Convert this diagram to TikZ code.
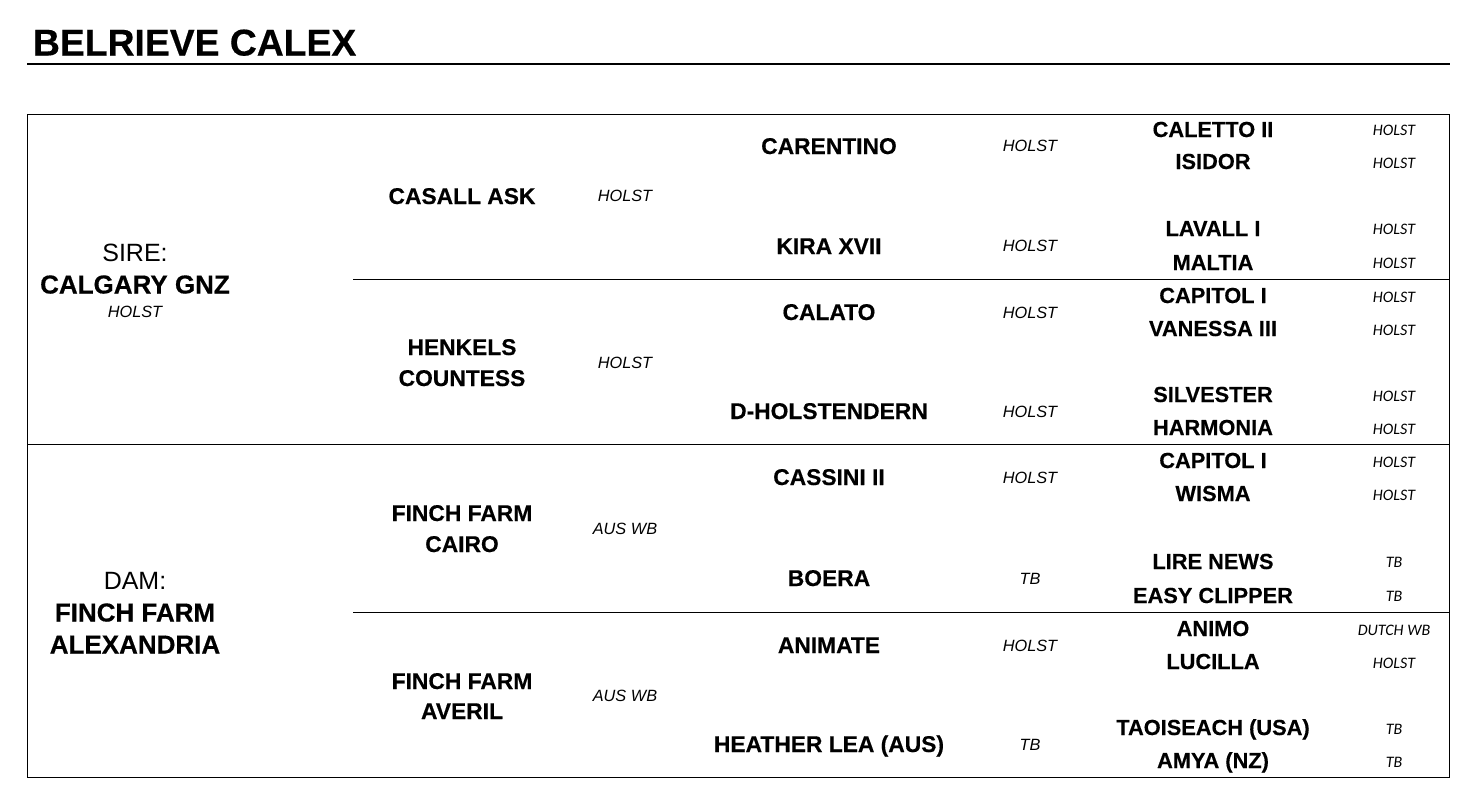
\documentclass[tikz,border=0pt]{standalone}
\usepackage{fontspec}
\setmainfont{Liberation Sans}[BoldFeatures={FakeBold=0.4}]
\newfontfamily\carl{Carlito}
\begin{document}
\begin{tikzpicture}[x=1pt,y=-1pt,
  every node/.style={inner sep=0pt,outer sep=0pt,anchor=base,text=black},
  titletext/.style={font=\fontsize{37.3}{40}\selectfont\bfseries,anchor=base west},
  bigname/.style={font=\fontsize{26}{30}\selectfont\bfseries},
  biglabel/.style={font=\fontsize{25}{28}\selectfont},
  gname/.style={font=\fontsize{22.8}{26}\selectfont\bfseries},
  ggname/.style={font=\fontsize{21.8}{24}\selectfont\bfseries},
  breedA/.style={font=\fontsize{16.3}{18}\selectfont\itshape},
  breedC/.style={font=\carl\fontsize{16}{18}\selectfont\itshape},
  frame/.style={line width=1pt,draw=black},
  rule/.style={line width=2pt,draw=black}]
\useasboundingbox (0,0) rectangle (1470,796);
% title
\node[titletext] (title) at (33,55.5) {BELRIEVE CALEX};
\draw[rule] (27,64) -- (1450,64);
% frame and dividers
\draw[frame] (27,114) rectangle (1449,777);
\draw[frame] (27,444) -- (1449,444);
\draw[frame] (353,279) -- (1449,279);
\draw[frame] (353,612) -- (1449,612);
% column 1
\node[biglabel] (sirelbl) at (135,261) {SIRE:};
\node[bigname] (sire) at (135,293.5) {CALGARY GNZ};
\node[breedA] (sirebr) at (135,317) {HOLST};
\node[biglabel] (damlbl) at (135,589) {DAM:};
\node[bigname] (dam1) at (135,621.5) {FINCH FARM};
\node[bigname] (dam2) at (135,653.5) {ALEXANDRIA};
% column 2
\node[gname] (s) at (462,204) {CASALL ASK};
\node[breedA] (sbr) at (625,201) {HOLST};
\node[gname] (sd1) at (462,355) {HENKELS};
\node[gname] (sd2) at (462,386) {COUNTESS};
\node[breedA] (sdbr) at (625,368) {HOLST};
\node[gname] (ds1) at (462,521) {FINCH FARM};
\node[gname] (ds2) at (462,552) {CAIRO};
\node[breedA] (dsbr) at (625,534) {AUS WB};
\node[gname] (dd1) at (462,689) {FINCH FARM};
\node[gname] (dd2) at (462,719) {AVERIL};
\node[breedA] (ddbr) at (625,701) {AUS WB};
% column 3
\node[gname] (ss) at (829,154) {CARENTINO};
\node[breedA] (ssbr) at (1030,151) {HOLST};
\node[gname] (sdd) at (829,254) {KIRA XVII};
\node[breedA] (sddbr) at (1030,251) {HOLST};
\node[gname] (dss) at (829,320) {CALATO};
\node[breedA] (dssbr) at (1030,318) {HOLST};
\node[gname] (dsd) at (829,419) {D-HOLSTENDERN};
\node[breedA] (dsdbr) at (1030,417) {HOLST};
\node[gname] (ass) at (829,485) {CASSINI II};
\node[breedA] (assbr) at (1030,483) {HOLST};
\node[gname] (asd) at (829,586) {BOERA};
\node[breedA] (asdbr) at (1030,584) {TB};
\node[gname] (bss) at (829,653) {ANIMATE};
\node[breedA] (bssbr) at (1030,651) {HOLST};
\node[gname] (bsd) at (829,752) {HEATHER LEA (AUS)};
\node[breedA] (bsdbr) at (1030,750) {TB};
% column 4
\node[ggname] (g1) at (1213,137) {CALETTO II};
\node[breedC] (g1b) at (1394,135) {HOLST};
\node[ggname] (g2) at (1213,169) {ISIDOR};
\node[breedC] (g2b) at (1394,168) {HOLST};
\node[ggname] (g3) at (1213,236) {LAVALL I};
\node[breedC] (g3b) at (1394,234) {HOLST};
\node[ggname] (g4) at (1213,270) {MALTIA};
\node[breedC] (g4b) at (1394,268) {HOLST};
\node[ggname] (g5) at (1213,303) {CAPITOL I};
\node[breedC] (g5b) at (1394,302) {HOLST};
\node[ggname] (g6) at (1213,336) {VANESSA III};
\node[breedC] (g6b) at (1394,335) {HOLST};
\node[ggname] (g7) at (1213,402) {SILVESTER};
\node[breedC] (g7b) at (1394,401) {HOLST};
\node[ggname] (g8) at (1213,435) {HARMONIA};
\node[breedC] (g8b) at (1394,434) {HOLST};
\node[ggname] (g9) at (1213,468) {CAPITOL I};
\node[breedC] (g9b) at (1394,467) {HOLST};
\node[ggname] (g10) at (1213,501) {WISMA};
\node[breedC] (g10b) at (1394,500) {HOLST};
\node[ggname] (g11) at (1213,569) {LIRE NEWS};
\node[breedC] (g11b) at (1394,567) {TB};
\node[ggname] (g12) at (1213,603) {EASY CLIPPER};
\node[breedC] (g12b) at (1394,601) {TB};
\node[ggname] (g13) at (1213,636) {ANIMO};
\node[breedC] (g13b) at (1394,635) {DUTCH WB};
\node[ggname] (g14) at (1213,669) {LUCILLA};
\node[breedC] (g14b) at (1394,668) {HOLST};
\node[ggname] (g15) at (1213,735) {TAOISEACH (USA)};
\node[breedC] (g15b) at (1394,734) {TB};
\node[ggname] (g16) at (1213,768) {AMYA (NZ)};
\node[breedC] (g16b) at (1394,767) {TB};
\end{tikzpicture}
\end{document}
